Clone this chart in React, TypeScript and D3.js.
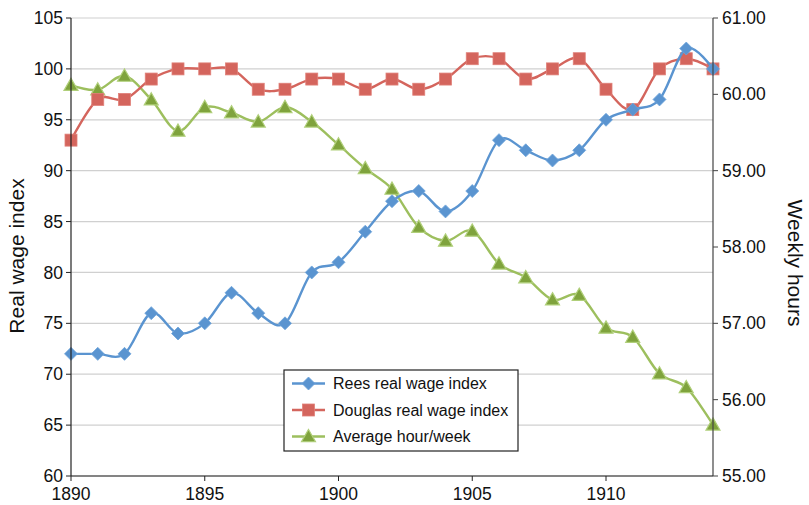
import React from "react";
import * as d3 from "d3";

const years = [1890,1891,1892,1893,1894,1895,1896,1897,1898,1899,1900,1901,1902,1903,1904,1905,1906,1907,1908,1909,1910,1911,1912,1913,1914];
const rees = [72,72,72,76,74,75,78,76,75,80,81,84,87,88,86,88,93,92,91,92,95,96,97,102,100];
const douglas = [93,97,97,99,100,100,100,98,98,99,99,98,99,98,99,101,101,99,100,101,98,96,100,101,100];
const hours = [60.12,60.06,60.24,59.93,59.52,59.83,59.76,59.64,59.83,59.64,59.34,59.03,58.76,58.26,58.08,58.21,57.78,57.6,57.31,57.37,56.94,56.82,56.34,56.16,55.67];
const leftTicks = [60,65,70,75,80,85,90,95,100,105];
const rightTicks = [55,56,57,58,59,60,61];
const xTicks = [1890,1895,1900,1905,1910];
const seriesNames = ["Rees real wage index","Douglas real wage index","Average hour/week"];

const W = 809, H = 505;
const L = 71, R = 713, T = 18, B = 476;
const font = "'Liberation Sans', Arial, Helvetica, sans-serif";
const BLUE = "#5a94d0", RED = "#d4655d", GREEN = "#9dbf5e", GREEN_D = "#7fa33d";

function Marker({ kind, x, y }: { kind: number; x: number; y: number }) {
  if (kind === 0) {
    const s = 6.5;
    return <path d={`M${x},${y - s}L${x + s},${y}L${x},${y + s}L${x - s},${y}Z`} fill={BLUE} stroke="#6fa4db" strokeWidth={0.8} />;
  }
  if (kind === 1) {
    const s = 6;
    return <rect x={x - s} y={y - s} width={2 * s} height={2 * s} fill={RED} stroke="#e08079" strokeWidth={0.8} />;
  }
  const s = 7;
  return <path d={`M${x},${y - s}L${x + s},${y + s * 0.75}L${x - s},${y + s * 0.75}Z`} fill={GREEN_D} stroke="#b0cf7a" strokeWidth={1.2} />;
}

export default function App() {
  const x = d3.scaleLinear().domain([1890, 1914]).range([L, R]);
  const yL = d3.scaleLinear().domain([60, 105]).range([B, T]);
  const yR = d3.scaleLinear().domain([55, 61]).range([B, T]);
  const line = d3.line<[number, number]>().x(d => d[0]).y(d => d[1]).curve(d3.curveCardinal.tension(0));
  const pts = [
    years.map((yr, i) => [x(yr), yL(rees[i])] as [number, number]),
    years.map((yr, i) => [x(yr), yL(douglas[i])] as [number, number]),
    years.map((yr, i) => [x(yr), yR(hours[i])] as [number, number]),
  ];
  const colors = [BLUE, RED, GREEN];
  const order = [2, 1, 0];
  const lgX = 284, lgY = 370;
  return (
    <svg width={W} height={H} style={{ position: "absolute", left: 0, top: 0 }} fontFamily={font}>
      <rect width={W} height={H} fill="#fff" />
      {leftTicks.map(t => (
        <line key={t} x1={L} x2={R} y1={yL(t)} y2={yL(t)} stroke="#d0d0d0" strokeWidth={1.2} />
      ))}
      {order.map(k => (
        <g key={k}>
          <path d={line(pts[k]) || ""} fill="none" stroke={colors[k]} strokeWidth={2.4} />
          {pts[k].map((p, i) => <Marker key={i} kind={k} x={p[0]} y={p[1]} />)}
        </g>
      ))}
      <line x1={L} x2={L} y1={T} y2={B} stroke="#222" strokeWidth={1.2} />
      <line x1={R} x2={R} y1={T} y2={B} stroke="#444" strokeWidth={1.2} />
      <line x1={L} x2={R} y1={B} y2={B} stroke="#222" strokeWidth={1.2} />
      {leftTicks.map(t => (
        <g key={t}>
          <line x1={L - 5} x2={L} y1={yL(t)} y2={yL(t)} stroke="#222" />
          <text x={L - 8} y={yL(t)} dy="0.35em" textAnchor="end" fontSize={17.5} fill="#111">{t}</text>
        </g>
      ))}
      {rightTicks.map(t => (
        <g key={t}>
          <line x1={R} x2={R + 5} y1={yR(t)} y2={yR(t)} stroke="#444" />
          <text x={R + 9} y={yR(t)} dy="0.35em" textAnchor="start" fontSize={17.5} fill="#111">{t.toFixed(2)}</text>
        </g>
      ))}
      {xTicks.map(t => (
        <g key={t}>
          <line x1={x(t)} x2={x(t)} y1={B} y2={B + 5} stroke="#222" />
          <text x={x(t)} y={B + 18} dy="0.35em" textAnchor="middle" fontSize={17.5} fill="#111">{t}</text>
        </g>
      ))}
      <text transform={`translate(17,256) rotate(-90)`} textAnchor="middle" dy="0.35em" fontSize={21} fill="#111">Real wage index</text>
      <text transform={`translate(795,263) rotate(90)`} textAnchor="middle" dy="0.35em" fontSize={21} fill="#111">Weekly hours</text>
      <rect x={lgX} y={lgY} width={234} height={81} fill="#fff" stroke="#222" strokeWidth={1.2} />
      {seriesNames.map((n, k) => {
        const yy = lgY + 13.5 + k * 26.5;
        return (
          <g key={n}>
            <line x1={lgX + 8} x2={lgX + 41} y1={yy} y2={yy} stroke={colors[k]} strokeWidth={2.4} />
            <Marker kind={k} x={lgX + 24.5} y={yy} />
            <text x={lgX + 49} y={yy} dy="0.35em" fontSize={16} fill="#111">{n}</text>
          </g>
        );
      })}
    </svg>
  );
}
